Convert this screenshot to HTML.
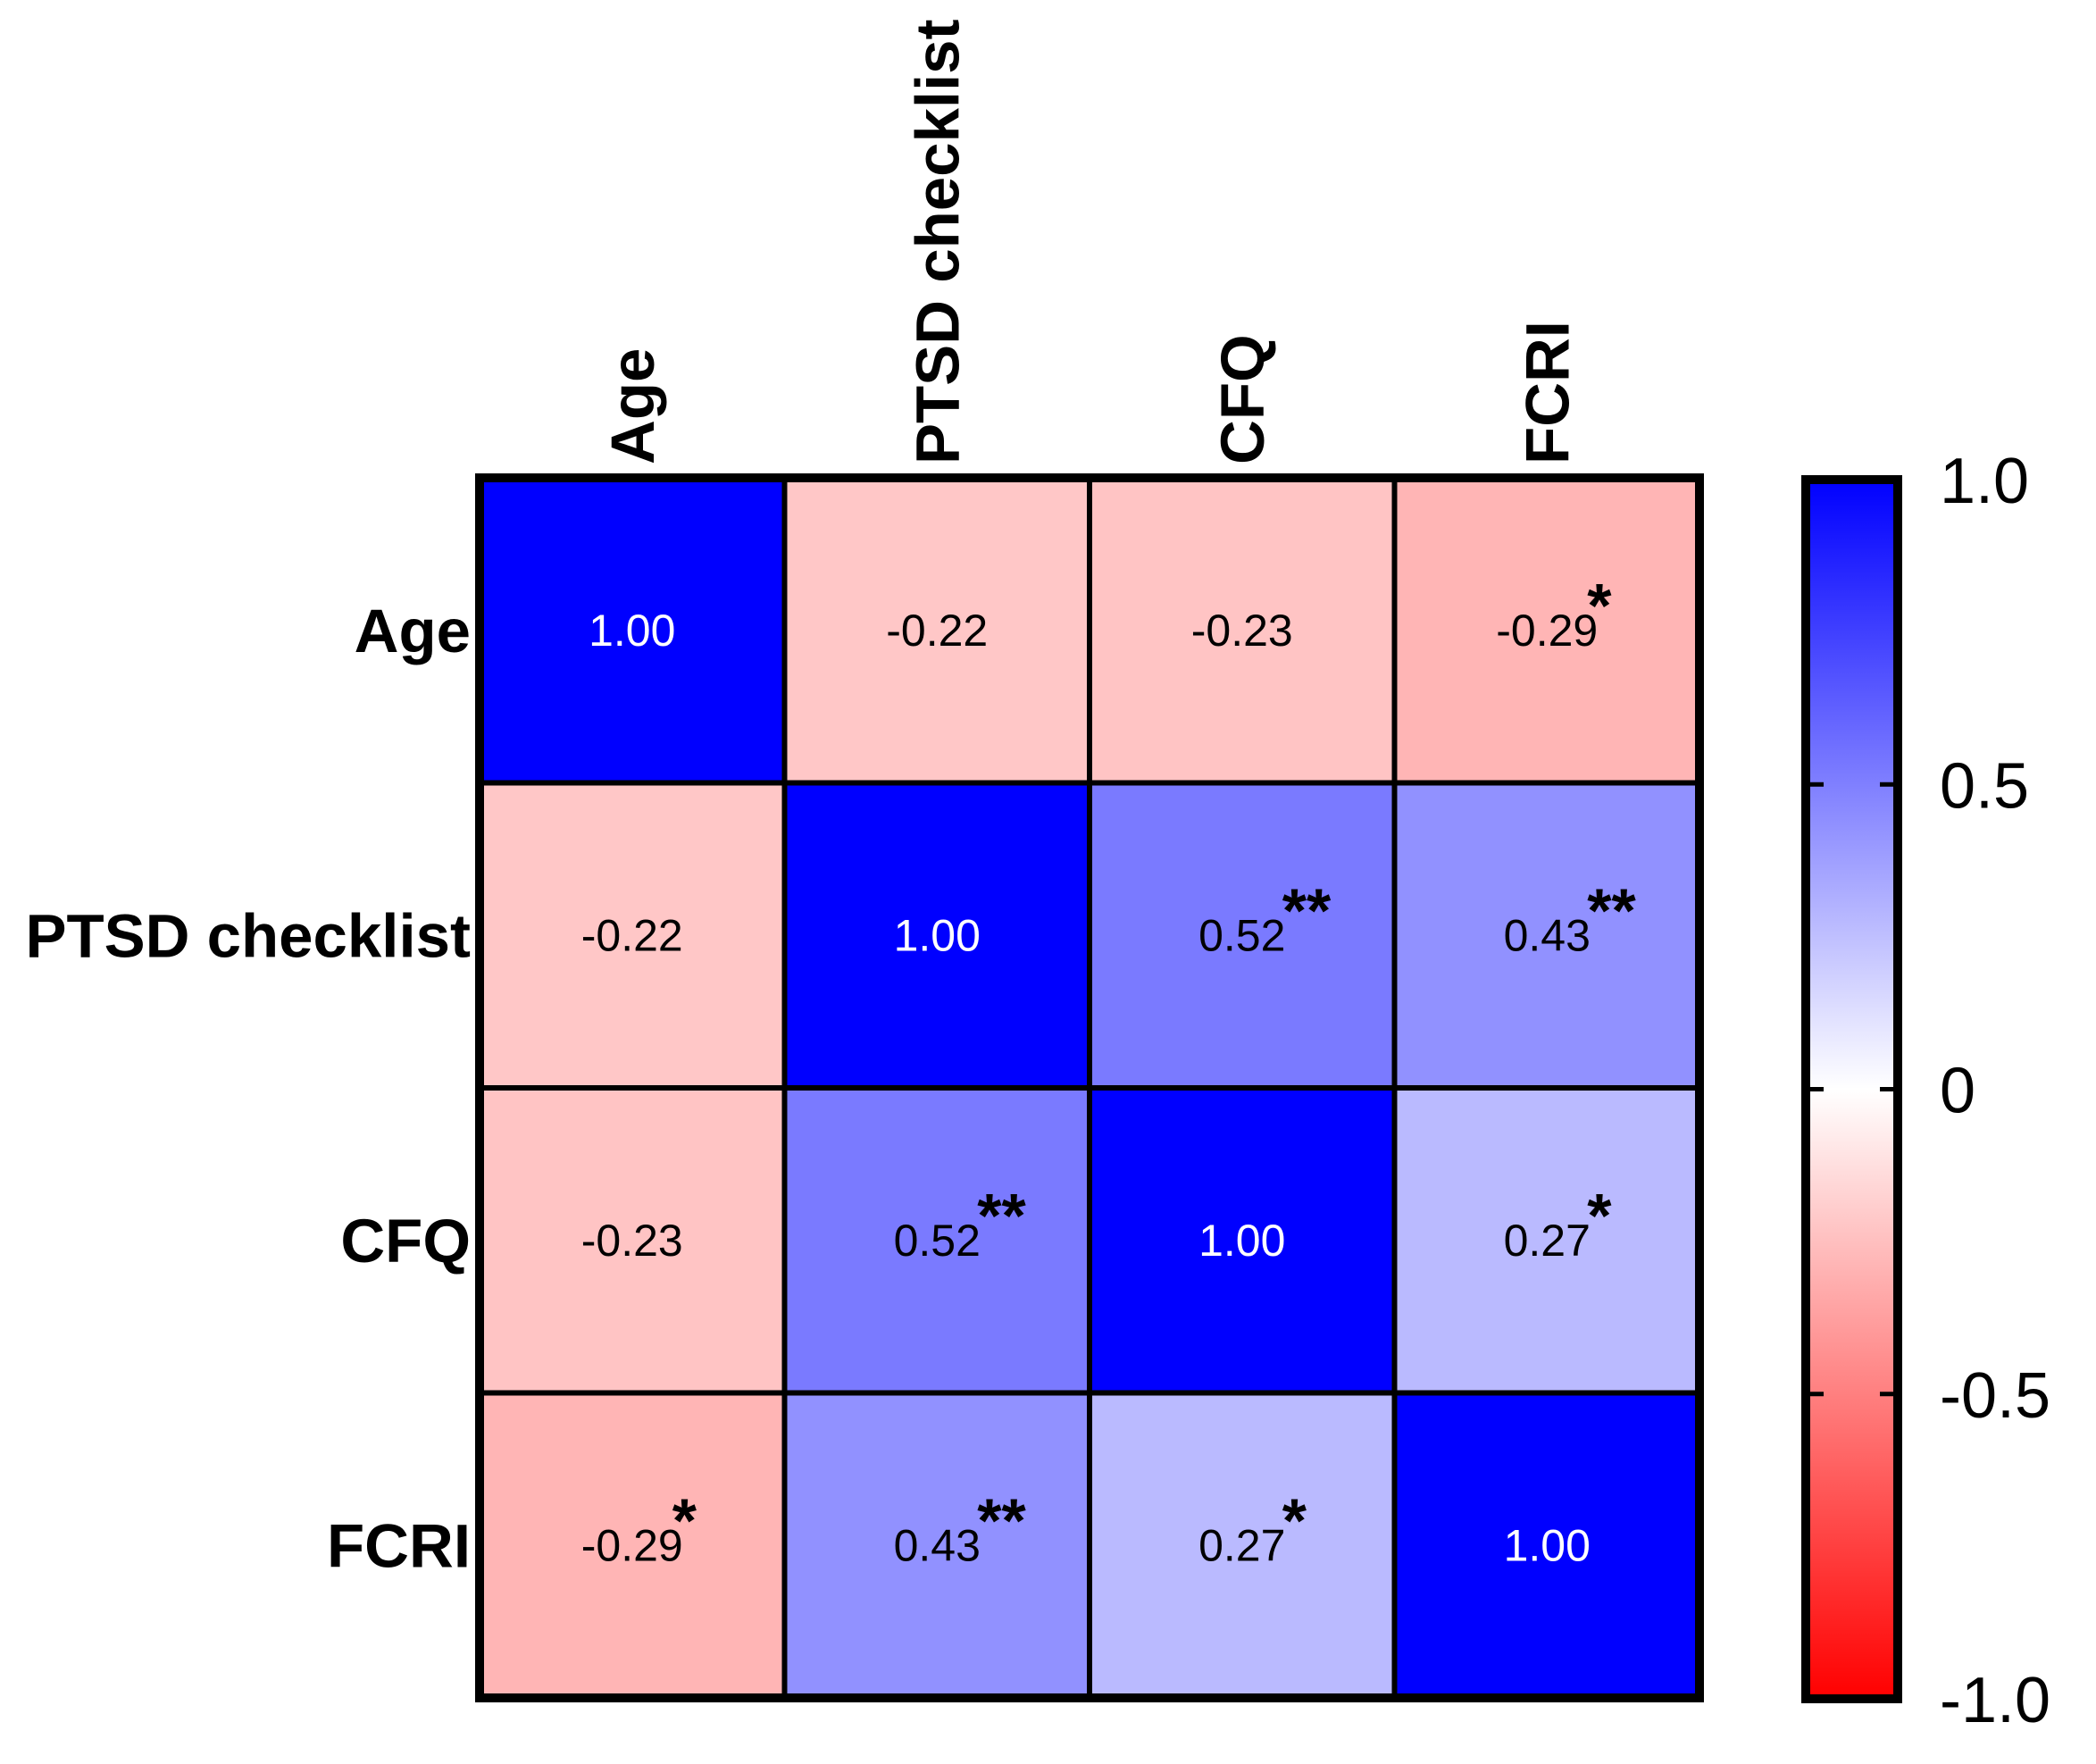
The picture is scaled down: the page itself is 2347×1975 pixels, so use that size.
<!DOCTYPE html>
<html><head><meta charset="utf-8"><style>
html,body{margin:0;padding:0;background:#fff;}
svg{display:block;font-family:"Liberation Sans",Arial,sans-serif;}
</style></head><body>
<svg id="chart" width="2347" height="1975" viewBox="0 0 2347 1975" xmlns="http://www.w3.org/2000/svg">
<defs>
<linearGradient id="cbar" x1="0" y1="0" x2="0" y2="1">
<stop offset="0" stop-color="#0000ff"/>
<stop offset="0.5" stop-color="#ffffff"/>
<stop offset="1" stop-color="#ff0000"/>
</linearGradient>
</defs>
<g id="cells"></g>
<g id="labels"></g>
<g id="colorbar"></g>
</svg>
<script>
const variables = ["Age", "PTSD checklist", "CFQ", "FCRI"];
const corrValues = [
  [1.00, -0.22, -0.23, -0.29],
  [-0.22, 1.00, 0.52, 0.43],
  [-0.23, 0.52, 1.00, 0.27],
  [-0.29, 0.43, 0.27, 1.00]
];
const significance = [
  ["", "", "", "*"],
  ["", "", "**", "**"],
  ["", "**", "", "*"],
  ["*", "**", "*", ""]
];
const cbarTicks = [1.0, 0.5, 0, -0.5, -1.0];
const cbarTickLabels = ["1.0", "0.5", "0", "-0.5", "-1.0"];

const NS = "http://www.w3.org/2000/svg";
const X0 = 537, Y0 = 535, CELL = 341.5;
function xPos(i){ return X0 + i*CELL; }
function yPos(i){ return Y0 + i*CELL; }
function colorFor(v){
  if (v >= 0){ const c = Math.round(255*(1-v)); return `rgb(${c},${c},255)`; }
  const c = Math.round(255*(1+v)); return `rgb(255,${c},${c})`;
}
function mk(tag, attrs, parent){
  const el = document.createElementNS(NS, tag);
  for (const k in attrs) el.setAttribute(k, attrs[k]);
  parent.appendChild(el); return el;
}
const cells = document.getElementById('cells');
const labels = document.getElementById('labels');
const cb = document.getElementById('colorbar');
const n = variables.length;

for (let r=0;r<n;r++){
  for (let c=0;c<n;c++){
    const v = corrValues[r][c];
    const rect = mk('rect',{x:xPos(c),y:yPos(r),width:CELL,height:CELL,fill:colorFor(v),stroke:'#000','stroke-width':6},cells);
    
    
    const cx = xPos(c)+CELL/2, cy = yPos(r)+CELL/2;
    const t = mk('text',{x:cx,y:cy+17,'font-size':50,'text-anchor':'middle',fill: v>0.9?'#fff':'#000'},cells);
    t.textContent = v.toFixed(2);
    
    
    if (significance[r][c]){
      const s = mk('text',{x:cx+45,y:cy-4,'font-size':70,'font-weight':'bold',fill:'#000'},cells);
      s.textContent = significance[r][c];
      
      
    }
  }
}
const border = mk('rect',{x:X0,y:Y0,width:CELL*n,height:CELL*n,fill:'none',stroke:'#000','stroke-width':10},cells);



for (let i=0;i<n;i++){
  const rl = mk('text',{x:527,y:yPos(i)+CELL/2+24,'font-size':69,'font-weight':'bold','text-anchor':'end'},labels);
  rl.textContent = variables[i];
  
  
  const lx = xPos(i)+CELL/2+24, ly = 520;
  const cl = mk('text',{x:lx,y:ly,'font-size':69,'font-weight':'bold','text-anchor':'start',transform:`rotate(-90 ${lx} ${ly})`},labels);
  cl.textContent = variables[i];
  
  
}

// colorbar
const CBX = 2022, CBW = 103, CBT = 537, CBB = 1902;
function cbY(v){ return CBT + (1 - v)/2*(CBB-CBT); }
const bar = mk('rect',{x:CBX,y:CBT,width:CBW,height:CBB-CBT,fill:'url(#cbar)',stroke:'#000','stroke-width':10},cb);


cbarTicks.forEach((v,i)=>{
  const y = cbY(v);
  if (i>0 && i<cbarTicks.length-1){
    const t1 = mk('line',{x1:CBX,y1:y,x2:CBX+20,y2:y,stroke:'#000','stroke-width':5},cb);
    
    
    const t2 = mk('line',{x1:CBX+CBW-20,y1:y,x2:CBX+CBW,y2:y,stroke:'#000','stroke-width':5},cb);
    
    
  }
  const lab = mk('text',{x:2172,y:y+26,'font-size':72},cb);
  lab.textContent = cbarTickLabels[i];
  
  
});
</script>
</body></html>
